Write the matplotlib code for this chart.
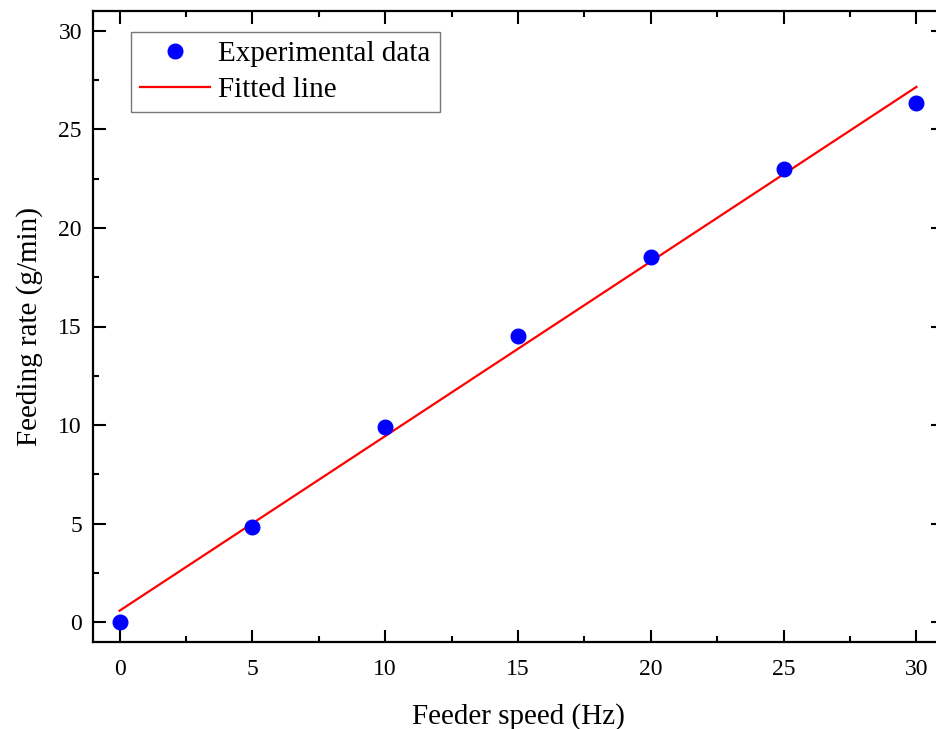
import numpy as np
import matplotlib
matplotlib.use("Agg")
import matplotlib.pyplot as plt
from matplotlib.ticker import MultipleLocator

# Feeder speed (Hz) and measured feeding rate (g/min)
speed_hz = [0, 5, 10, 15, 20, 25, 30]
feed_rate = [0.0, 4.85, 9.88, 14.5, 18.5, 23.0, 26.35]
x_ticks = [0, 5, 10, 15, 20, 25, 30]
y_ticks = [0, 5, 10, 15, 20, 25, 30]

# Linear least-squares fit
slope, intercept = np.polyfit(speed_hz, feed_rate, 1)
fit_x = np.array([speed_hz[0], speed_hz[-1]])
fit_y = slope * fit_x + intercept

plt.rcParams["font.family"] = ["Liberation Serif", "DejaVu Serif"]

W, H = 937, 729
fig = plt.figure(figsize=(W / 100, H / 100), dpi=100)
ax = fig.add_axes([93 / W, (H - 642) / H, (943 - 93) / W, (642 - 11) / H])

ax.plot(fit_x, fit_y, color="#ff0000", lw=1.6, label="Fitted line", zorder=2)
ax.plot(speed_hz, feed_rate, "o", color="#0000ff", ms=10.5, mec="#0000ff",
        label="Experimental data", zorder=3)

ax.set_xlim(-1, 31)
ax.set_ylim(-1, 31)
ax.set_xticks(x_ticks)
ax.set_yticks(y_ticks)
ax.xaxis.set_minor_locator(MultipleLocator(2.5))
ax.yaxis.set_minor_locator(MultipleLocator(2.5))
ax.tick_params(which="both", direction="in", top=True, right=True, width=1.5)
ax.tick_params(which="major", length=9, labelsize=17)
ax.tick_params(axis="x", which="major", pad=12)
ax.tick_params(axis="y", which="major", pad=8)
ax.tick_params(which="minor", length=4.5)
for s in ax.spines.values():
    s.set_linewidth(1.6)

ax.set_xlabel("Feeder speed (Hz)", fontsize=21, labelpad=17)
ax.set_ylabel("Feeding rate (g/min)", fontsize=21, labelpad=11)

handles, labels = ax.get_legend_handles_labels()
leg = ax.legend(handles[::-1], labels[::-1], loc="upper left",
                bbox_to_anchor=(38 / 850, (642 - 32) / 631), fontsize=21,
                frameon=True, fancybox=False, edgecolor="#555555",
                handlelength=2.4, handletextpad=0.3, borderpad=0.3,
                labelspacing=0.33, borderaxespad=0)
leg.get_frame().set_linewidth(1.0)

fig.savefig("out.png", dpi=100)
